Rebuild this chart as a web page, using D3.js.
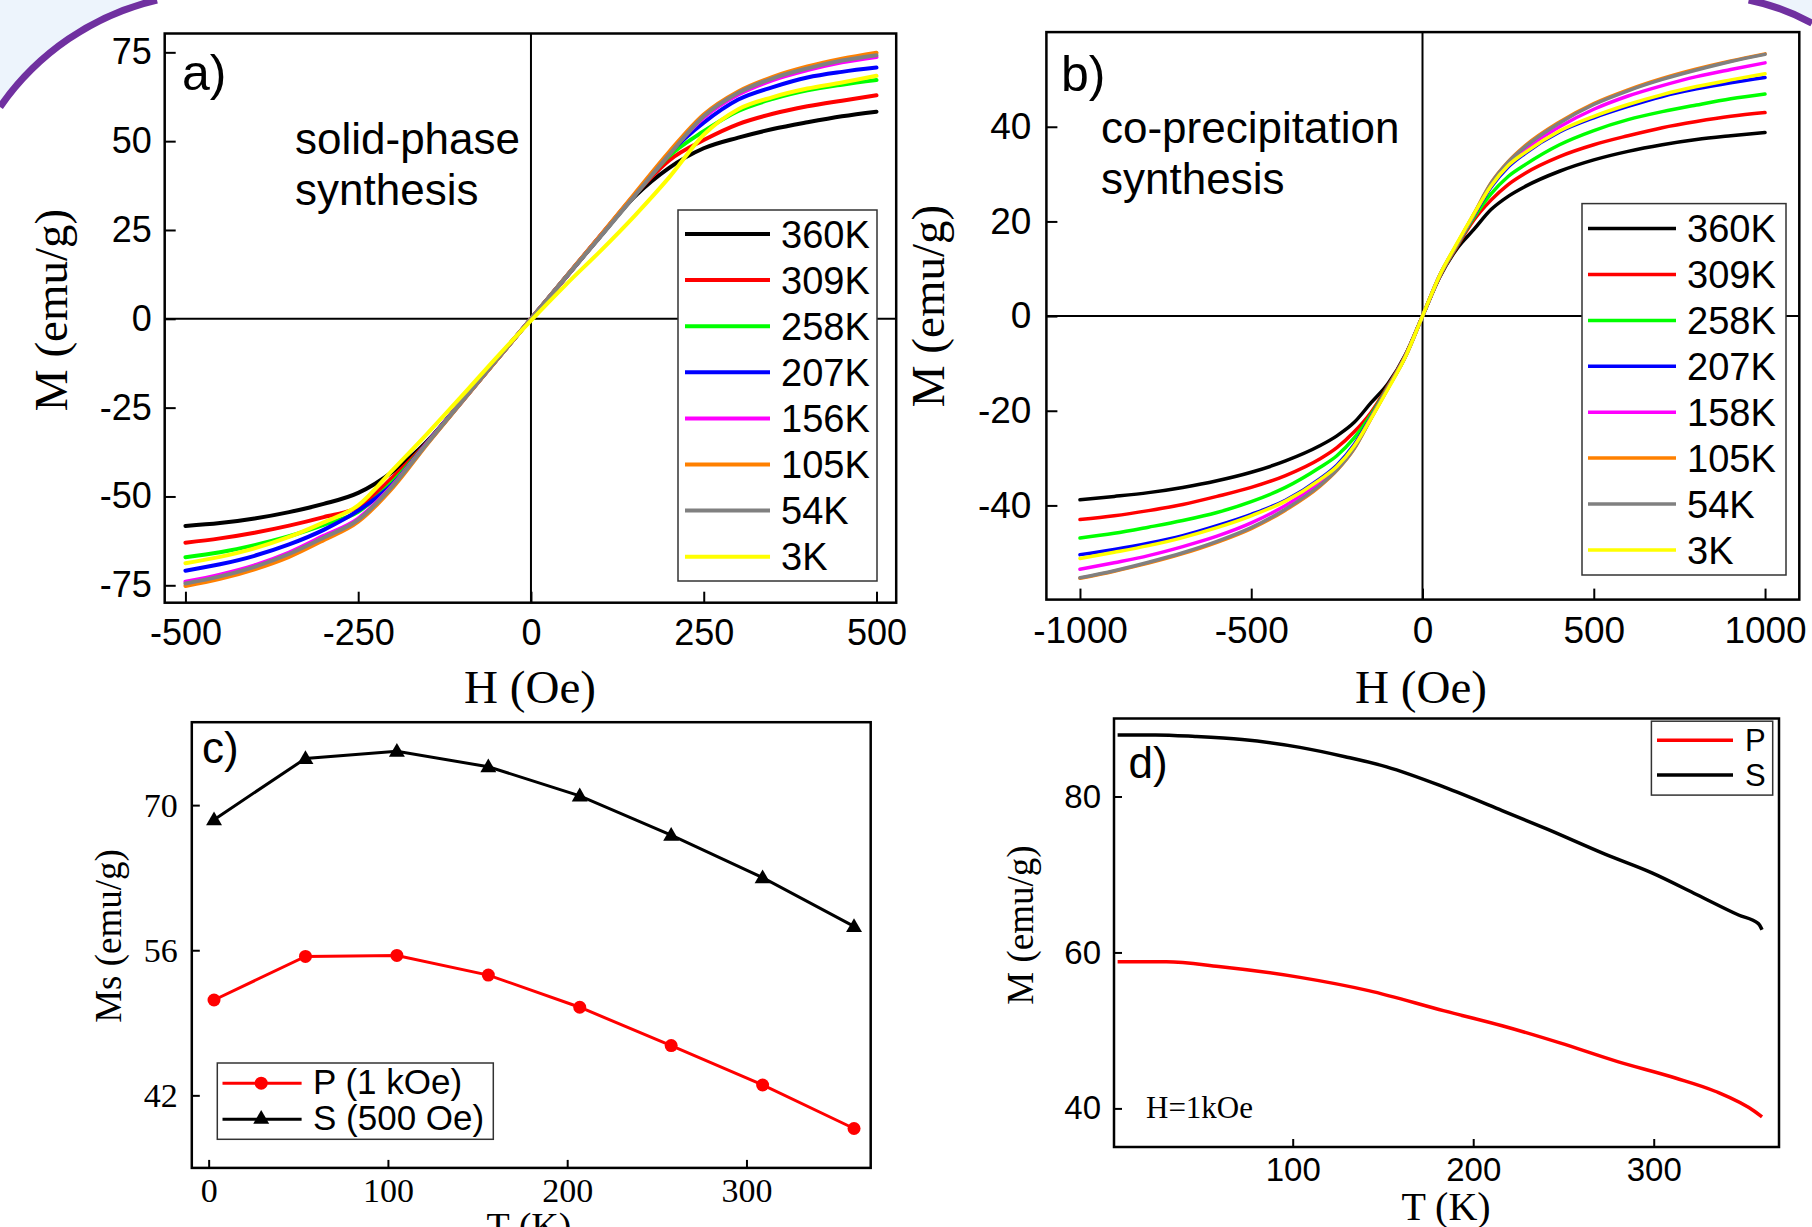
<!DOCTYPE html>
<html>
<head>
<meta charset="utf-8">
<script src="https://cdn.jsdelivr.net/npm/d3@7"></script>
<style>
  body { margin: 0; background: #fff; }
  svg { display: block; }
</style>
</head>
<body>
<svg id="fig" width="1812" height="1227"></svg>
<script>
// ---------- data ----------
const legendA = ["360K", "309K", "258K", "207K", "156K", "105K", "54K", "3K"];
const legendB = ["360K", "309K", "258K", "207K", "158K", "105K", "54K", "3K"];
const curveColors = ["#000000", "#ff0000", "#00ff00", "#0000ff", "#ff00ff", "#ff8000", "#808080", "#ffff00"];

// a) solid-phase synthesis, M (emu/g) vs H (Oe)
const fieldA = [-500, -450, -400, -350, -300, -250, -200, -150, -100, -50, 0, 50, 100, 150, 200, 250, 300, 350, 400, 450, 500];
const mA360 = [-58.3, -57.5, -56.2, -54.4, -52.1, -49.0, -43.0, -34.4, -23.2, -11.6, 0, 11.6, 23.2, 34.4, 42.5, 48.0, 51.0, 53.4, 55.3, 57.0, 58.3];
const mA309 = [-63.0, -61.8, -60.2, -58.2, -55.8, -53.0, -44.6, -34.8, -23.2, -11.6, 0, 11.6, 23.2, 34.8, 44.6, 50.3, 54.8, 57.7, 59.8, 61.4, 62.9];
const mA258 = [-67.1, -65.7, -63.7, -61.2, -58.0, -54.3, -45.8, -34.8, -23.2, -11.6, 0, 11.6, 23.2, 34.8, 45.8, 52.8, 58.5, 61.9, 64.3, 65.9, 67.2];
const mA207 = [-70.9, -69.1, -66.7, -63.5, -59.4, -54.0, -46.5, -34.8, -23.2, -11.6, 0, 11.6, 23.2, 34.8, 46.5, 55.2, 61.7, 65.2, 67.9, 69.5, 70.7];
const mA156 = [-74.0, -72.0, -69.4, -65.8, -61.1, -56.2, -46.8, -34.9, -23.3, -11.6, 0, 11.6, 23.3, 34.9, 46.6, 56.6, 63.1, 67.2, 70.0, 72.2, 73.7];
const mA105 = [-75.2, -73.2, -70.5, -67.0, -62.3, -57.1, -47.5, -35.2, -23.4, -11.7, 0, 11.7, 23.4, 35.2, 47.0, 57.5, 64.0, 68.1, 71.0, 73.2, 74.9];
const mA54 = [-74.5, -72.5, -69.8, -66.2, -61.6, -56.6, -47.0, -35.0, -23.3, -11.6, 0, 11.6, 23.0, 34.6, 46.2, 57.0, 63.6, 67.7, 70.5, 72.7, 74.2];
const mA3 = [-68.8, -67.0, -64.6, -61.4, -57.3, -52.5, -42.5, -32.3, -21.7, -10.9, -0.5, 9.5, 19.0, 29.0, 39.8, 51.8, 59.0, 62.4, 64.8, 66.5, 68.4];

// b) co-precipitation synthesis
const fieldB = [-1000, -900, -800, -700, -600, -500, -400, -300, -250, -200, -150, -100, -50, 0, 50, 100, 150, 200, 250, 300, 400, 500, 600, 700, 800, 900, 1000];
const mB360 = [-38.8, -38.1, -37.3, -36.2, -34.8, -33.0, -30.6, -27.4, -25.3, -22.5, -18.3, -14.2, -8.2, 0, 8.2, 14.2, 18.3, 22.5, 25.3, 27.4, 30.6, 33.0, 34.8, 36.2, 37.3, 38.1, 38.8];
const mB309 = [-43.0, -42.2, -41.1, -39.8, -38.1, -36.2, -33.7, -30.2, -27.8, -24.5, -20.3, -14.6, -8.3, 0, 8.3, 14.6, 20.3, 24.5, 27.8, 30.2, 33.7, 36.2, 38.1, 39.8, 41.1, 42.2, 43.0];
const mB258 = [-46.9, -45.9, -44.6, -43.2, -41.5, -39.2, -36.2, -32.0, -29.5, -25.8, -20.8, -14.8, -8.4, 0, 8.4, 14.8, 20.8, 25.8, 29.5, 32.0, 36.2, 39.2, 41.5, 43.2, 44.6, 45.9, 46.9];
const mB207 = [-50.4, -49.3, -48.0, -46.4, -44.3, -41.9, -38.9, -34.4, -31.5, -27.2, -21.3, -15.0, -8.5, 0, 8.5, 15.0, 21.3, 27.2, 31.5, 34.4, 38.9, 41.9, 44.3, 46.4, 48.0, 49.3, 50.4];
const mB158 = [-53.5, -52.1, -50.6, -48.7, -46.5, -43.7, -40.0, -35.2, -32.0, -27.7, -21.4, -15.0, -8.5, 0, 8.5, 15.0, 21.4, 27.7, 32.0, 35.2, 40.0, 43.7, 46.5, 48.7, 50.6, 52.1, 53.5];
const mB105 = [-55.4, -53.9, -52.2, -50.2, -47.8, -44.9, -41.0, -36.0, -32.6, -28.1, -21.6, -15.1, -8.6, 0, 8.6, 15.1, 21.6, 28.1, 32.6, 36.0, 41.0, 44.9, 47.8, 50.2, 52.2, 53.9, 55.4];
const mB54 = [-55.3, -53.8, -52.0, -50.0, -47.6, -44.7, -40.8, -35.8, -32.5, -28.0, -21.5, -15.1, -8.6, 0, 8.6, 15.1, 21.5, 28.0, 32.5, 35.8, 40.8, 44.7, 47.6, 50.0, 52.0, 53.8, 55.3];
const mB3 = [-51.2, -49.9, -48.5, -46.8, -44.7, -42.2, -39.1, -34.6, -31.8, -27.5, -21.6, -15.3, -8.6, 0, 8.6, 15.3, 21.6, 27.5, 31.8, 34.6, 39.1, 42.2, 44.7, 46.8, 48.5, 49.9, 51.2];

// c) Ms vs T
const tempC = [3, 54, 105, 156, 207, 258, 309, 360];
const msP = [51.2, 55.4, 55.5, 53.6, 50.5, 46.8, 43.0, 38.8];
const msS = [68.6, 74.5, 75.2, 73.7, 70.9, 67.1, 63.0, 58.3];

// d) M vs T at H = 1 kOe
const tempDS = [3, 24, 46, 72, 104, 129, 152, 184, 216, 241, 273, 299, 324, 347, 358, 360];
const mDS = [87.9, 87.9, 87.7, 87.3, 86.3, 85.1, 83.8, 81.2, 78.2, 75.8, 72.6, 70.2, 67.4, 64.8, 63.7, 62.9];
const tempDP = [3, 30, 59, 104, 142, 184, 216, 248, 280, 312, 334, 356, 360];
const mDP = [58.8, 58.8, 58.2, 56.8, 55.1, 52.5, 50.6, 48.4, 46.0, 43.9, 42.2, 39.6, 38.9];

const ticksAx = [-500, -250, 0, 250, 500];
const ticksAy = [-75, -50, -25, 0, 25, 50, 75];
const ticksBx = [-1000, -500, 0, 500, 1000];
const ticksBy = [-40, -20, 0, 20, 40];
const ticksCx = [0, 100, 200, 300];
const ticksCy = [42, 56, 70];
const ticksDx = [100, 200, 300];
const ticksDy = [40, 60, 80];

// ---------- drawing ----------
const sans = "'Liberation Sans', Arial, sans-serif";
const serif = "'Liberation Serif', 'Times New Roman', serif";
const svg = d3.select("#fig");
const plain = d => String(d); // hyphen minus, no thousands comma

// slide decoration in the top corners
svg.append("path").attr("d", "M0,0 L157,0 A265,265 0 0,0 0,107 Z").attr("fill", "#edf4fc");
svg.append("path").attr("d", "M157,0 A265,265 0 0,0 0,107").attr("fill", "none")
  .attr("stroke", "#7030a0").attr("stroke-width", 7);
svg.append("path").attr("d", "M1748.7,0 A221,221 0 0,1 1812,23.3 L1812,0 Z").attr("fill", "#edf4fc");
svg.append("path").attr("d", "M1748.7,0 A221,221 0 0,1 1812,23.3").attr("fill", "none")
  .attr("stroke", "#7030a0").attr("stroke-width", 7);

function drawAxes(x, y, xt, yt, o) {
  const g = svg.append("g");
  const bottom = y.range()[0], left = x.range()[0];
  const ax = g.append("g").attr("transform", `translate(0,${bottom})`)
    .call(d3.axisBottom(x).tickValues(xt).tickFormat(plain).tickSizeInner(-o.tick).tickSizeOuter(0).tickPadding(o.padX));
  const ay = g.append("g").attr("transform", `translate(${left},0)`)
    .call(d3.axisLeft(y).tickValues(yt).tickFormat(plain).tickSizeInner(-o.tick).tickSizeOuter(0).tickPadding(o.padY));
  [ax, ay].forEach(a => {
    a.select(".domain").remove();
    a.selectAll("line").attr("stroke", "#000").attr("stroke-width", 2);
    a.selectAll("text").attr("fill", "#000").style("font-family", o.font).style("font-size", o.size + "px");
  });
  g.append("rect")
    .attr("x", x.range()[0]).attr("y", y.range()[1])
    .attr("width", x.range()[1] - x.range()[0]).attr("height", y.range()[0] - y.range()[1])
    .attr("fill", "none").attr("stroke", "#000").attr("stroke-width", 2.5);
  return g;
}

function text(str, x, y, font, size, anchor, rotate) {
  const t = svg.append("text").text(str)
    .attr("x", x).attr("y", y)
    .attr("text-anchor", anchor || "start")
    .style("font-family", font).style("font-size", size + "px").attr("fill", "#000");
  if (rotate) t.attr("transform", `rotate(-90,${x},${y})`);
  return t;
}

function loopPanel(field, series, labels, x, y, width, leg) {
  // zero lines
  svg.append("line").attr("x1", x(0)).attr("x2", x(0)).attr("y1", y.range()[0]).attr("y2", y.range()[1])
    .attr("stroke", "#000").attr("stroke-width", 2);
  svg.append("line").attr("x1", x.range()[0]).attr("x2", x.range()[1]).attr("y1", y(0)).attr("y2", y(0))
    .attr("stroke", "#000").attr("stroke-width", 2);
  const line = d3.line().x(d => x(d[0])).y(d => y(d[1])).curve(d3.curveMonotoneX);
  series.forEach((s, i) => {
    svg.append("path").datum(field.map((h, k) => [h, s[k]]))
      .attr("d", line).attr("fill", "none")
      .attr("stroke", curveColors[i]).attr("stroke-width", width)
      .attr("stroke-linejoin", "round").attr("stroke-linecap", "round");
  });
  // legend
  const lg = svg.append("g");
  lg.append("rect").attr("x", leg.x0).attr("y", leg.y0)
    .attr("width", leg.x1 - leg.x0).attr("height", leg.y1 - leg.y0)
    .attr("fill", "#fff").attr("stroke", "#333").attr("stroke-width", 1.5);
  labels.forEach((lab, i) => {
    const yy = leg.row0 + i * leg.step;
    lg.append("line").attr("x1", leg.lx0).attr("x2", leg.lx1).attr("y1", yy).attr("y2", yy)
      .attr("stroke", curveColors[i]).attr("stroke-width", width);
    lg.append("text").text(lab).attr("x", leg.tx).attr("y", yy + 13.6)
      .style("font-family", sans).style("font-size", "38px");
  });
}

// ---- panel a ----
const xA = d3.scaleLinear().domain([-530, 528.5]).range([164.7, 896.2]);
const yA = d3.scaleLinear().domain([-79.9, 80.3]).range([602.7, 33.5]);
loopPanel(fieldA, [mA360, mA309, mA258, mA207, mA156, mA105, mA54, mA3], legendA, xA, yA, 4,
  { x0: 678, y0: 210, x1: 877, y1: 581, row0: 234, step: 46.1, lx0: 685, lx1: 770, tx: 781 });
drawAxes(xA, yA, ticksAx, ticksAy, { tick: 11, padX: 17, padY: 13, font: sans, size: 36 });
text("a)", 182, 90, sans, 50);
text("solid-phase", 295, 154, sans, 44);
text("synthesis", 295, 205, sans, 44);
text("M (emu/g)", 67, 310, serif, 47, "middle", true);
text("H (Oe)", 530, 703, serif, 47, "middle");

// ---- panel b ----
const xB = d3.scaleLinear().domain([-1098, 1100]).range([1046.4, 1799.3]);
const yB = d3.scaleLinear().domain([-59.9, 60]).range([599.6, 32.1]);
loopPanel(fieldB, [mB360, mB309, mB258, mB207, mB158, mB105, mB54, mB3], legendB, xB, yB, 3.5,
  { x0: 1582, y0: 203.6, x1: 1786, y1: 575, row0: 228.6, step: 45.9, lx0: 1588, lx1: 1676, tx: 1687 });
drawAxes(xB, yB, ticksBx, ticksBy, { tick: 11, padX: 17, padY: 15, font: sans, size: 37 });
text("b)", 1061, 91, sans, 50);
text("co-precipitation", 1101, 143, sans, 44);
text("synthesis", 1101, 194, sans, 44);
text("M (emu/g)", 944, 306, serif, 47, "middle", true);
text("H (Oe)", 1421, 703, serif, 47, "middle");

// ---- panel c ----
const xC = d3.scaleLinear().domain([-9.4, 369.3]).range([191.8, 870.7]);
const yC = d3.scaleLinear().domain([35, 78]).range([1167.9, 722.2]);
drawAxes(xC, yC, ticksCx, ticksCy, { tick: 8, padX: 10, padY: 14, font: serif, size: 34 });
const lineC = d3.line().x(d => xC(d[0])).y(d => yC(d[1]));
const triangle = d3.symbol().type(d3.symbolTriangle).size(110);
const seriesC = [
  { name: "P (1 kOe)", vals: msP, color: "#ff0000", mark: "circle" },
  { name: "S (500 Oe)", vals: msS, color: "#000000", mark: "triangle" }
];
seriesC.forEach(s => {
  const pts = tempC.map((t, k) => [t, s.vals[k]]);
  svg.append("path").datum(pts).attr("d", lineC).attr("fill", "none")
    .attr("stroke", s.color).attr("stroke-width", 3);
  pts.forEach(p => {
    if (s.mark === "circle") {
      svg.append("circle").attr("cx", xC(p[0])).attr("cy", yC(p[1])).attr("r", 6.5).attr("fill", s.color);
    } else {
      svg.append("path").attr("d", triangle).attr("fill", s.color)
        .attr("transform", `translate(${xC(p[0])},${yC(p[1]) + 1})`);
    }
  });
});
svg.append("rect").attr("x", 217.3).attr("y", 1063).attr("width", 276).attr("height", 76.3)
  .attr("fill", "#fff").attr("stroke", "#333").attr("stroke-width", 1.5);
seriesC.forEach((s, i) => {
  const yy = [1083.2, 1119.2][i];
  svg.append("line").attr("x1", 222.5).attr("x2", 301.6).attr("y1", yy).attr("y2", yy)
    .attr("stroke", s.color).attr("stroke-width", 3);
  if (s.mark === "circle") {
    svg.append("circle").attr("cx", 261.2).attr("cy", yy).attr("r", 6.5).attr("fill", s.color);
  } else {
    svg.append("path").attr("d", triangle).attr("fill", s.color).attr("transform", `translate(261.2,${yy})`);
  }
  text(s.name, 313, yy + 11, sans, 35);
});
text("c)", 202, 763, sans, 44);
text("Ms (emu/g)", 121, 936, serif, 37, "middle", true);
text("T (K)", 529, 1239, serif, 38, "middle");

// ---- panel d ----
const xD = d3.scaleLinear().domain([1, 369.4]).range([1114, 1779]);
const yD = d3.scaleLinear().domain([35.05, 90]).range([1147, 718.5]);
drawAxes(xD, yD, ticksDx, ticksDy, { tick: 8, padX: 11, padY: 13, font: sans, size: 33 });
const lineD = d3.line().x(d => xD(d[0])).y(d => yD(d[1])).curve(d3.curveMonotoneX);
const seriesD = [
  { name: "P", t: tempDP, vals: mDP, color: "#ff0000" },
  { name: "S", t: tempDS, vals: mDS, color: "#000000" }
];
seriesD.forEach(s => {
  svg.append("path").datum(s.t.map((t, k) => [t, s.vals[k]])).attr("d", lineD)
    .attr("fill", "none").attr("stroke", s.color).attr("stroke-width", 3.5);
});
svg.append("rect").attr("x", 1651.4).attr("y", 721.2).attr("width", 121.3).attr("height", 73.9)
  .attr("fill", "#fff").attr("stroke", "#333").attr("stroke-width", 1.5);
seriesD.forEach((s, i) => {
  const yy = [740.3, 775][i];
  svg.append("line").attr("x1", 1657).attr("x2", 1733).attr("y1", yy).attr("y2", yy)
    .attr("stroke", s.color).attr("stroke-width", 3.5);
  text(s.name, 1745, yy + 11, sans, 31);
});
text("d)", 1128.5, 778, sans, 44);
text("H=1kOe", 1146, 1118, serif, 31);
text("M (emu/g)", 1033, 925, serif, 37, "middle", true);
text("T (K)", 1446, 1220, serif, 40, "middle");
</script>
</body>
</html>
